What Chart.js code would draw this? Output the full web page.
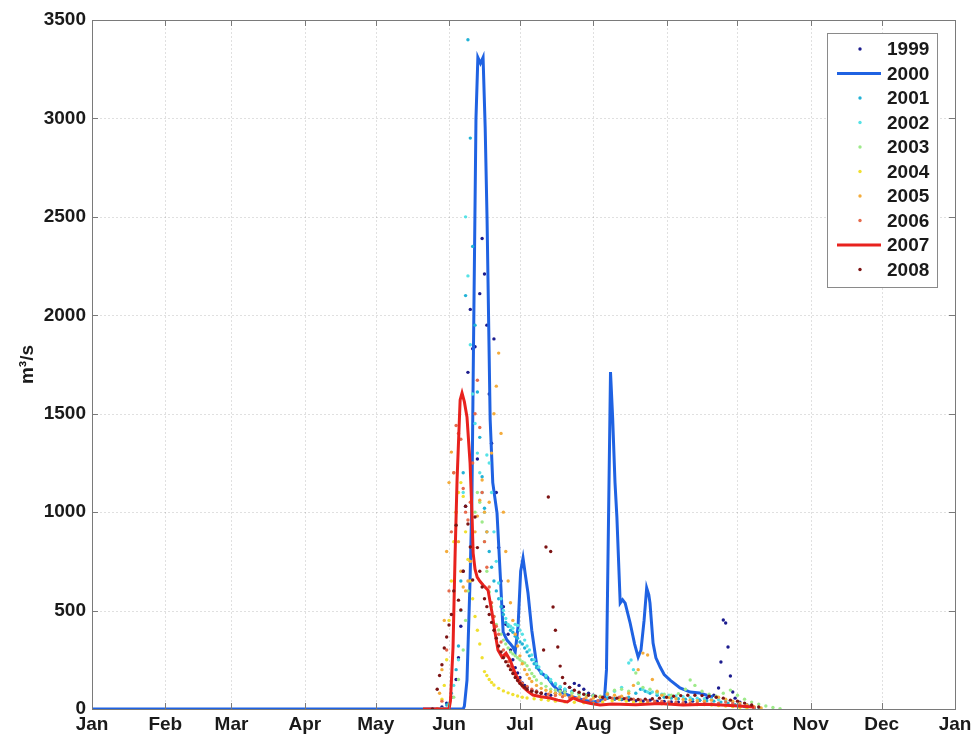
<!DOCTYPE html>
<html><head><meta charset="utf-8">
<script src="https://cdn.jsdelivr.net/npm/chart.js@4.4.1/dist/chart.umd.min.js"></script>
<style>html,body{margin:0;padding:0;background:#fff;}</style>
</head><body>
<canvas id="c" width="977" height="738"></canvas>
<script>
// ---------- DATA ----------
const monthStarts = [0,31,59,90,120,151,181,212,243,273,304,334,365];
const monthLabels = ['Jan','Feb','Mar','Apr','May','Jun','Jul','Aug','Sep','Oct','Nov','Dec','Jan'];
const yTickValues = [0,500,1000,1500,2000,2500,3000,3500];
const years = ['1999','2000','2001','2002','2003','2004','2005','2006','2007','2008'];
const yearColors = ['#1c1c8e','#1f62e2','#22b2d6','#56e2e6','#9eea8a','#f0e030','#f4ac3c','#e66a4c','#e8221e','#7c1414'];
const lineYears = ['2000','2007'];

// [day of year, discharge m3/s]
const q1999 = [[146,0],[148,10],[150,30],[152,60],[154,150],[155,260],[156,420],[157,700],[158,1030],[159,1710],[160,2030],[161,1830],[162,1840],[163,1270],[164,2110],[165,2390],[166,2210],[167,1950],[168,1600],[169,1350],[170,1880],[171,1100],[172,820],[173,650],[174,520],[175,430],[176,380],[177,300],[178,250],[179,210],[180,183],[181,160],[182,132],[183,120],[184,110],[186,95],[188,90],[190,80],[192,75],[194,70],[196,80],[198,95],[200,90],[202,110],[204,130],[206,120],[208,100],[210,80],[212,70],[215,60],[218,55],[221,50],[224,48],[227,45],[230,42],[233,40],[236,45],[239,40],[242,38],[245,36],[248,35],[251,34],[254,40],[257,45],[260,55],[263,70],[265,107],[266,239],[267,452],[268,437],[269,315],[270,168],[271,86],[272,55],[274,35],[277,20],[280,8]];
const q2000 = [[0,0],[157,0],[157.5,15],[158.6,147],[159.9,655],[160.7,1077],[161.2,1670],[162.4,3000],[163.2,3310],[164.3,3280],[165.4,3310],[166.3,2950],[167.1,2480],[168.4,1470],[169.5,1150],[171.3,995],[172.8,650],[173.9,390],[175.5,350],[177,330],[178,315],[179,290],[180.2,420],[181.3,700],[182.3,767],[183.3,680],[184.4,589],[186,400],[188.2,213],[190.3,180],[192.5,163],[195,120],[198,86],[203.5,61],[208,45],[212,36],[215,42],[216.8,60],[217.6,200],[218.5,1000],[219.3,1712],[220.2,1480],[221.2,1150],[222,975],[223.4,538],[224.4,555],[225.5,538],[227.6,437],[229.5,330],[231,264],[232.2,300],[233.5,450],[234.6,615],[235.5,580],[236,538],[237.3,335],[238.5,260],[240.3,213],[242,175],[244.5,147],[248.7,107],[253,86],[257,81],[260,70],[262.7,61]];
const q2001 = [[148,0],[150,20],[152,80],[154,200],[155,320],[156,650],[157,1200],[158,2100],[159,3400],[160,2900],[161,2350],[162,1950],[163,1610],[164,1380],[165,1180],[166,1020],[167,900],[168,800],[169,720],[170,650],[171,600],[172,560],[173,520],[174,480],[175,440],[176,420],[177,400],[178,390],[179,370],[180,360],[181,340],[182,330],[183,310],[184,290],[185,270],[186,250],[187,230],[188,210],[190,180],[192,160],[194,140],[196,125],[198,110],[200,100],[203,90],[206,80],[209,72],[212,66],[215,60],[218,56],[221,52],[224,50],[227,60],[230,80],[232,100],[234,90],[236,80],[239,70],[242,60],[245,55],[248,52],[251,50],[254,48],[257,45],[260,42],[263,40],[266,35],[269,30],[272,22],[276,12],[280,5]];
const q2002 = [[148,0],[151,30],[153,120],[155,250],[156,500],[157,1100],[158,2500],[159,2200],[160,1850],[161,1600],[162,1450],[163,1300],[164,1200],[165,1100],[166,1000],[167,1290],[168,1250],[169,1100],[170,900],[171,750],[172,640],[173,560],[174,500],[175,460],[176,430],[177,420],[178,410],[179,430],[180,425],[181,400],[182,380],[183,350],[184,320],[185,300],[186,274],[187,250],[188,230],[189,213],[190,190],[192,170],[194,150],[196,130],[198,115],[200,100],[203,85],[206,75],[209,70],[212,65],[215,60],[218,70],[221,90],[224,110],[227,234],[228,249],[229,200],[231,130],[233,100],[235,86],[237,86],[239,80],[241,75],[244,70],[247,66],[250,62],[253,58],[256,55],[259,52],[262,50],[265,48],[268,45],[271,35],[274,25],[278,15],[282,8]];
const q2003 = [[148,0],[151,20],[153,60],[155,150],[157,300],[158,450],[159,600],[160,750],[161,900],[162,1000],[163,1100],[164,1050],[165,950],[166,850],[167,700],[168,594],[169,520],[170,470],[171,430],[172,401],[173,380],[174,350],[175,330],[176,310],[177,290],[178,280],[179,270],[180,260],[181,250],[182,240],[183,234],[184,220],[185,200],[186,180],[187,165],[188,147],[190,130],[192,115],[194,100],[196,95],[198,90],[200,85],[203,80],[206,75],[209,70],[212,68],[215,65],[218,80],[221,95],[224,100],[227,90],[230,183],[231,132],[233,110],[236,100],[239,85],[242,75],[245,70],[248,78],[251,100],[253,147],[255,120],[258,90],[261,75],[264,65],[267,80],[270,96],[273,70],[276,50],[279,35],[282,25],[285,15],[288,8],[291,2]];
const q2004 = [[146,0],[148,50],[149,120],[150,250],[151,450],[152,650],[153,850],[154,1000],[155,1100],[156,1150],[157,1080],[158,900],[159,760],[160,650],[161,560],[162,470],[163,400],[164,330],[165,260],[166,190],[167,170],[168,150],[169,135],[170,122],[172,105],[174,92],[176,82],[178,74],[180,66],[182,60],[184,56],[187,52],[190,48],[193,44],[196,40],[200,36],[204,34],[208,32],[212,30],[216,36],[220,42],[223,48],[226,40],[229,36],[232,33],[235,31],[238,29],[241,27],[244,26],[247,25],[250,24],[253,23],[256,22],[259,22],[262,20],[265,18],[268,15],[271,12],[274,8],[277,4]];
const q2005 = [[146,0],[147,80],[148,200],[149,450],[150,800],[151,1150],[152,1305],[153,1200],[154,1000],[155,850],[156,700],[157,620],[158,600],[159,650],[160,750],[161,820],[162,900],[163,980],[164,1061],[165,1163],[166,1000],[167,900],[168,1050],[169,1300],[170,1500],[171,1640],[172,1808],[173,1400],[174,1000],[175,800],[176,650],[177,540],[178,450],[179,380],[180,320],[181,270],[182,230],[183,200],[184,175],[185,155],[186,140],[188,120],[190,105],[192,95],[194,88],[196,80],[198,75],[200,70],[203,65],[206,60],[209,58],[212,55],[215,60],[218,75],[221,70],[224,65],[227,80],[229,120],[231,200],[233,284],[235,274],[237,150],[239,90],[241,70],[244,58],[247,52],[250,48],[253,45],[256,42],[259,40],[262,45],[265,60],[268,50],[271,40],[274,30],[277,20],[280,12],[283,5]];
const q2006 = [[146,0],[148,40],[150,300],[151,600],[152,900],[153,1200],[154,1440],[155,1400],[156,1370],[157,1120],[158,1000],[159,960],[160,1050],[161,1250],[162,1500],[163,1670],[164,1430],[165,1100],[166,850],[167,720],[168,620],[169,540],[170,470],[171,420],[172,380],[173,340],[174,300],[175,270],[176,240],[177,215],[178,195],[179,175],[180,160],[181,145],[182,130],[184,115],[186,100],[188,90],[190,82],[193,75],[196,68],[199,62],[202,58],[205,54],[208,50],[211,46],[214,42],[217,48],[220,55],[223,60],[226,55],[229,50],[232,46],[235,42],[238,40],[241,38],[244,36],[247,34],[250,32],[253,30],[256,30],[259,28],[262,26],[265,30],[268,35],[271,28],[274,20],[277,12],[280,6]];
const q2007 = [[140,0],[151,0],[151.6,40],[152.7,315],[153.6,800],[154.4,1163],[155.7,1570],[156.5,1605],[157.5,1560],[158.6,1483],[159.9,1250],[160.7,995],[161.2,792],[162,710],[162.9,670],[164,650],[165.4,630],[167.5,604],[169.2,488],[170.5,386],[171.7,300],[173.4,264],[175.1,284],[176.8,249],[178.9,183],[180.5,140],[182.3,112],[184.5,88],[186.5,71],[190,62],[193.7,56],[197,45],[201,36],[203.5,56],[205.5,45],[207.7,36],[211,28],[214.9,20],[220,25],[230,22],[240,28],[250,20],[260,24],[270,18],[280,10]];
const q2008 = [[144,0],[146,100],[147,170],[148,225],[149,310],[150,366],[151,427],[152,480],[153,600],[154,934],[155,553],[156,503],[157,700],[158,1030],[159,940],[160,823],[161,655],[162,975],[163,820],[164,700],[165,620],[166,560],[167,520],[168,480],[169,440],[170,400],[171,360],[172,320],[173,290],[174,260],[175,240],[176,220],[177,200],[178,180],[179,160],[180,145],[181,130],[182,120],[183,110],[184,100],[186,90],[188,85],[190,80],[191,300],[192,823],[193,1077],[194,800],[195,518],[196,400],[197,315],[198,218],[199,160],[200,130],[202,110],[204,95],[206,85],[208,75],[210,70],[213,65],[216,60],[219,58],[222,55],[225,52],[228,50],[231,48],[234,50],[237,52],[240,55],[243,60],[246,65],[249,68],[252,70],[255,70],[258,68],[261,65],[264,60],[267,55],[270,45],[273,40],[276,30],[279,20],[282,10]];
const seriesByYear = [q1999,q2000,q2001,q2002,q2003,q2004,q2005,q2006,q2007,q2008];

// ---------- CHART ----------
const FONT = '"Liberation Sans", Arial, sans-serif';
const FS = 19;
const toXY = a => a.map(p => ({x:p[0], y:p[1]}));

const datasets = years.map((yr,i) => {
  const isLine = lineYears.includes(yr);
  return {
    label: yr,
    data: toXY(seriesByYear[i]),
    borderColor: yearColors[i],
    backgroundColor: yearColors[i],
    showLine: isLine,
    borderWidth: isLine ? 3 : 0,
    pointRadius: isLine ? 0 : 1.7,
    pointBorderWidth: 0,
    tension: 0,
    order: 100 - i
  };
});

const framePlugin = {
  id: 'frame',
  beforeDatasetsDraw(chart) {
    const {ctx, chartArea:a, scales:{x,y}} = chart;
    ctx.save();
    ctx.strokeStyle = 'rgba(0,0,0,0.12)';
    ctx.lineWidth = 1;
    ctx.setLineDash([2,2]);
    monthStarts.forEach(v => { const px = Math.round(x.getPixelForValue(v))+0.5; ctx.beginPath(); ctx.moveTo(px,a.top); ctx.lineTo(px,a.bottom); ctx.stroke(); });
    yTickValues.forEach(v => { const py = Math.round(y.getPixelForValue(v))+0.5; ctx.beginPath(); ctx.moveTo(a.left,py); ctx.lineTo(a.right,py); ctx.stroke(); });
    ctx.restore();
  },
  afterDatasetsDraw(chart) {
    const {ctx, chartArea:a, scales:{x,y}} = chart;
    ctx.save();
    ctx.strokeStyle = '#7a7a7a';
    ctx.lineWidth = 1;
    ctx.strokeRect(Math.round(a.left)+0.5, Math.round(a.top)+0.5, Math.round(a.right-a.left), Math.round(a.bottom-a.top));
    const tl = 6;
    ctx.beginPath();
    monthStarts.forEach(v => { const px = Math.round(x.getPixelForValue(v))+0.5;
      ctx.moveTo(px,a.bottom); ctx.lineTo(px,a.bottom-tl); ctx.moveTo(px,a.top); ctx.lineTo(px,a.top+tl); });
    yTickValues.forEach(v => { const py = Math.round(y.getPixelForValue(v))+0.5;
      ctx.moveTo(a.left,py); ctx.lineTo(a.left+tl,py); ctx.moveTo(a.right,py); ctx.lineTo(a.right-tl,py); });
    ctx.stroke();

    // legend
    const w = 110, rowH = 24.5, h = 254;
    const lx = Math.round(a.right - 18 - w), ly = Math.round(a.top + 13);
    ctx.fillStyle = '#fff';
    ctx.fillRect(lx, ly, w, h);
    ctx.strokeStyle = '#8a8a8a';
    ctx.strokeRect(lx+0.5, ly+0.5, w, h);
    ctx.font = 'bold ' + FS + 'px ' + FONT;
    ctx.textBaseline = 'middle';
    ctx.textAlign = 'left';
    chart.data.datasets.forEach((ds,i) => {
      const cy = ly + 16 + i*rowH;
      if (ds.showLine) {
        ctx.strokeStyle = ds.borderColor; ctx.lineWidth = 3;
        ctx.beginPath(); ctx.moveTo(lx+10, cy); ctx.lineTo(lx+54, cy); ctx.stroke();
      } else {
        ctx.fillStyle = ds.backgroundColor;
        ctx.beginPath(); ctx.arc(lx+33, cy, 1.7, 0, Math.PI*2); ctx.fill();
      }
      ctx.fillStyle = '#1a1a1a';
      ctx.fillText(ds.label, lx+60, cy+1);
    });
    ctx.restore();
  }
};

new Chart(document.getElementById('c'), {
  type: 'scatter',
  data: { datasets },
  options: {
    responsive: false,
    animation: false,
    devicePixelRatio: 1,
    layout: { padding: { top: 20, right: 22, left: 0, bottom: 0 } },
    plugins: { legend: { display: false }, tooltip: { enabled: false } },
    scales: {
      x: {
        type: 'linear', min: 0, max: 365,
        afterBuildTicks: s => { s.ticks = monthStarts.map(v => ({ value: v })); },
        afterFit: s => { s.height = 29; },
        grid: { display: false, drawTicks: false },
        border: { display: false },
        ticks: {
          autoSkip: false, maxRotation: 0, padding: 4, color: '#1a1a1a',
          font: { family: FONT, size: FS, weight: 'bold' },
          callback: (v) => monthLabels[monthStarts.indexOf(v)]
        }
      },
      y: {
        type: 'linear', min: 0, max: 3500,
        afterBuildTicks: s => { s.ticks = yTickValues.map(v => ({ value: v })); },
        afterFit: s => { s.width = 92; },
        grid: { display: false, drawTicks: false },
        border: { display: false },
        ticks: { padding: 6, color: '#1a1a1a', font: { family: FONT, size: FS, weight: 'bold' },
                 callback: (v) => String(v) },
        title: { display: true, text: 'm³/s', color: '#1a1a1a', padding: { top: 16, bottom: 0 },
                 font: { family: FONT, size: FS, weight: 'bold' } }
      }
    }
  },
  plugins: [framePlugin]
});
</script>
</body></html>
